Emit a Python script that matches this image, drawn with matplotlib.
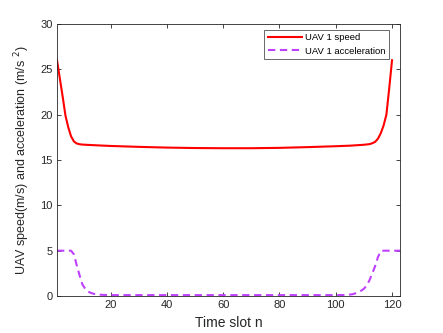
import matplotlib
matplotlib.use("Agg")
import matplotlib.pyplot as plt

plt.rcParams['font.family'] = ['Liberation Sans', 'DejaVu Sans']

# Speed series (time slot, m/s)
speed_n = [1, 2, 3, 4, 5, 6, 7, 8, 9, 10, 15, 20, 30, 40, 50, 60, 70, 80, 90,
           100, 105, 110, 112, 113, 114, 115, 116, 117, 118, 119, 120]
speed_v = [26.0, 24.0, 22.0, 19.9, 18.6, 17.6, 17.05, 16.82, 16.74, 16.7, 16.62,
           16.55, 16.45, 16.37, 16.32, 16.3, 16.3, 16.34, 16.42, 16.52, 16.58,
           16.68, 16.75, 16.85, 17.0, 17.35, 17.95, 18.8, 20.0, 22.9, 26.0]

# Acceleration series (time slot, m/s^2)
acc_n = [1, 2, 3, 4, 5, 6, 7, 8, 9, 10, 11, 12, 13, 14, 15, 16, 18, 20, 30, 40,
         50, 60, 70, 80, 90, 100, 104, 106, 107, 108, 109, 110, 111, 112, 113,
         114, 115, 116, 117, 118, 119, 120, 121, 122, 123]
acc_v = [5.0, 5.0, 5.0, 5.0, 5.0, 5.0, 4.6, 3.4, 2.3, 1.3, 0.8, 0.5, 0.35, 0.25,
         0.2, 0.15, 0.12, 0.1, 0.1, 0.1, 0.1, 0.1, 0.1, 0.1, 0.1, 0.1, 0.12,
         0.2, 0.3, 0.42, 0.58, 0.8, 1.15, 1.75, 2.5, 3.3, 4.3, 4.95, 5.0, 5.0,
         5.0, 5.0, 5.0, 5.0, 5.0]

xticks = [20, 40, 60, 80, 100, 120]
yticks = [0, 5, 10, 15, 20, 25, 30]

fig = plt.figure(figsize=(4.43, 3.33), dpi=100)
ax = fig.add_axes([0.1287, 0.111, 0.7753, 0.817])

ax.plot(speed_n, speed_v, color='#FF0000', lw=1.5, label='UAV 1 speed')
ax.plot(acc_n, acc_v, color='#BF40FF', lw=1.5, dashes=(3.5, 2.2),
        label='UAV 1 acceleration')

ax.set_xlim(1, 123)
ax.set_ylim(0, 30)
ax.set_xticks(xticks)
ax.set_yticks(yticks)

axc = '#262626'
for s in ax.spines.values():
    s.set_color(axc)
    s.set_linewidth(0.6)
ax.tick_params(direction='in', length=3, width=0.6, colors=axc,
               labelsize=8, top=True, right=True, pad=3)
for lab in ax.get_xticklabels() + ax.get_yticklabels():
    lab.set_color(axc)

ax.set_xlabel('Time slot n', fontsize=10, color=axc, labelpad=4)
ax.set_ylabel('UAV speed(m/s) and acceleration (m/s $^2$)', fontsize=9,
              color=axc, labelpad=6)

leg = ax.legend(loc='upper right', fontsize=6.8, frameon=True, fancybox=False,
                edgecolor=axc, handlelength=3.6, borderaxespad=0.0,
                bbox_to_anchor=(0.967, 0.978),
                labelspacing=0.45, borderpad=0.35, handletextpad=0.4)
leg.get_frame().set_linewidth(0.6)

fig.savefig('out.png', dpi=100)
